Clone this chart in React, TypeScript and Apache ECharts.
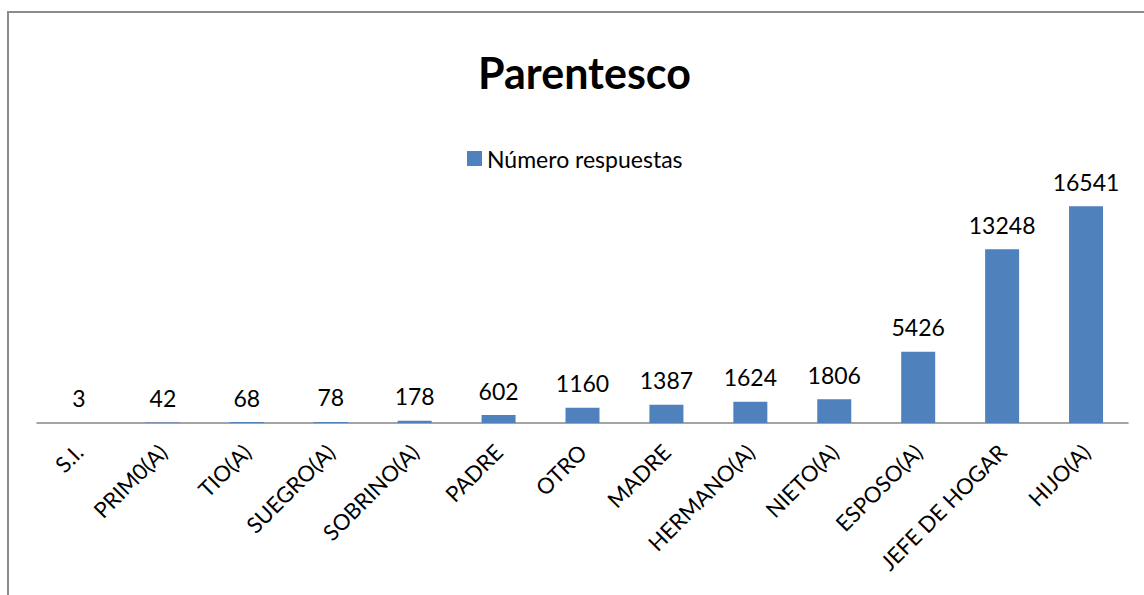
import React, { useEffect, useRef } from "react";
import * as echarts from "echarts";

const categories = [
  "S.I.", "PRIM0(A)", "TIO(A)", "SUEGRO(A)", "SOBRINO(A)", "PADRE", "OTRO",
  "MADRE", "HERMANO(A)", "NIETO(A)", "ESPOSO(A)", "JEFE DE HOGAR", "HIJO(A)",
];
const values = [3, 42, 68, 78, 178, 602, 1160, 1387, 1624, 1806, 5426, 13248, 16541];
const seriesName = "Número respuestas";
const titleText = "Parentesco";

export default function App() {
  const ref = useRef<HTMLDivElement>(null);
  useEffect(() => {
    document.body.style.margin = "0";
    const chart = echarts.init(ref.current!, null, { renderer: "svg" });
    const font = "Lato, 'Open Sans', sans-serif";
    chart.setOption({
      animation: false,
      backgroundColor: "#ffffff",
      textStyle: { fontFamily: font },
      title: {
        text: titleText,
        left: 478,
        top: 51,
        padding: 0,
        textStyle: { fontSize: 43, fontWeight: "bold", color: "#000", fontFamily: font },
      },
      legend: {
        left: 467,
        top: 147,
        padding: 0,
        itemWidth: 15,
        itemHeight: 15,
        icon: "rect",
        textStyle: { fontSize: 23, color: "#000", fontFamily: font },
        data: [seriesName],
      },
      grid: { left: 37, right: 16, top: 187, bottom: 172, containLabel: false },
      xAxis: {
        type: "category",
        data: categories,
        axisLine: { lineStyle: { color: "#868686", width: 1.5 } },
        axisTick: { show: false },
        axisLabel: { rotate: 45, fontSize: 22, color: "#000", margin: 25, interval: 0, fontFamily: font },
      },
      yAxis: {
        type: "value",
        min: 0,
        max: 18000,
        show: false,
        splitLine: { show: false },
      },
      series: [
        {
          name: seriesName,
          type: "bar",
          data: values,
          barWidth: 34,
          itemStyle: { color: "#4f81bd" },
          label: { show: true, position: "top", distance: 13, fontSize: 23, color: "#000", fontFamily: font },
        },
      ],
      graphic: [
        {
          type: "rect",
          shape: { x: 8, y: 12, width: 1300, height: 800 },
          style: { fill: "none", stroke: "#8c8c8c", lineWidth: 2 },
          silent: true,
        },
      ],
    });
    return () => chart.dispose();
  }, []);
  return <div ref={ref} style={{ width: 1144, height: 595 }} />;
}
